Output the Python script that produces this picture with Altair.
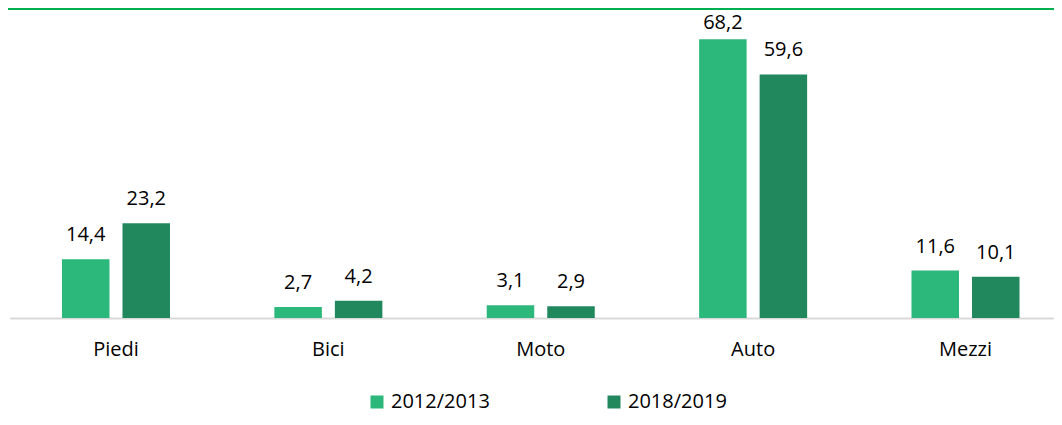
import altair as alt
import pandas as pd

categories = ["Piedi", "Bici", "Moto", "Auto", "Mezzi"]
series = ["2012/2013", "2018/2019"]
values_2012 = [14.4, 2.7, 3.1, 68.2, 11.6]
values_2018 = [23.2, 4.2, 2.9, 59.6, 10.1]
colors = ["#2BB87A", "#21885D"]

rows = []
for c, a, b in zip(categories, values_2012, values_2018):
    rows.append({"cat": c, "serie": series[0], "val": a})
    rows.append({"cat": c, "serie": series[1], "val": b})
df = pd.DataFrame(rows)
df["lab"] = df["val"].map(lambda v: f"{v:.1f}".replace(".", ","))
# Excel keeps the tallest label inside the plot area
df["lab_pos"] = df["val"].clip(upper=66.3)

FONT = "Open Sans"
FS = 20

x = alt.X(
    "cat:N", sort=categories, title=None,
    scale=alt.Scale(range=[1.8, 1063.7], paddingInner=0, paddingOuter=0),
    axis=alt.Axis(labelAngle=0, labelFont=FONT, labelFontSize=FS, labelColor="#000000",
                  labelPadding=21, ticks=False, domainColor="#D9D9D9", domainWidth=2,
                  grid=False),
)
xo = alt.XOffset("serie:N", sort=series,
                 scale=alt.Scale(paddingInner=0.215, paddingOuter=0.8625))
color = alt.Color(
    "serie:N", sort=series,
    scale=alt.Scale(domain=series, range=colors),
    legend=alt.Legend(title=None, orient="none", legendX=359, legendY=384,
                      direction="horizontal", symbolType="square", symbolSize=169,
                      symbolStrokeWidth=0, labelFont=FONT, labelFontSize=FS,
                      labelColor="#000000", columnPadding=114, labelOffset=4),
)
yscale = alt.Scale(domain=[0, 75.85], nice=False, zero=True)

base = alt.Chart(df)
bars = base.mark_bar().encode(
    x=x, xOffset=xo,
    y=alt.Y("val:Q", scale=yscale, axis=None),
    color=color,
)
labels = base.mark_text(font=FONT, fontSize=FS, color="#000000",
                        baseline="alphabetic", dy=-18).encode(
    x=x, xOffset=xo,
    y=alt.Y("lab_pos:Q", scale=yscale, axis=None),
    text="lab:N",
)
topline = alt.Chart(pd.DataFrame({"k": [0]})).mark_rule(
    color="#00B050", strokeWidth=2).encode(
    x=alt.value(0), x2=alt.value(1046), y=alt.value(1))

chart = alt.layer(bars, labels, topline).properties(
    width=1046, height=310,
    autosize=alt.AutoSizeParams(type="none"),
    padding={"left": 0, "top": 0, "right": 0, "bottom": 99},
).configure_view(stroke=None)

chart.save("out.html", embed_options={"renderer": "svg", "actions": False})
